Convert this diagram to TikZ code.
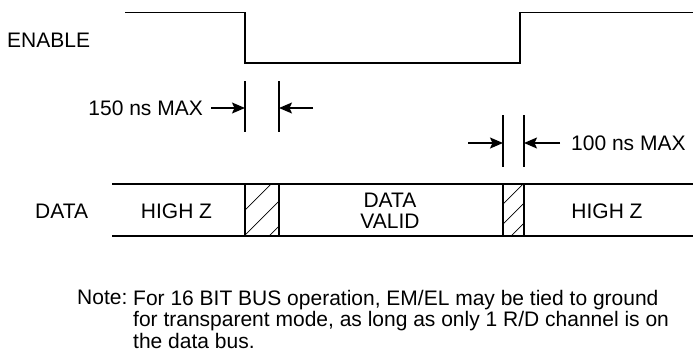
\documentclass[tikz,border=0pt]{standalone}
\usepackage{fontspec}
\setmainfont{Liberation Sans}
\usetikzlibrary{arrows.meta}

\begin{document}
\begin{tikzpicture}[
  x=1pt,y=-1pt,>={Stealth[length=13pt,width=11pt,inset=2.5pt]},
  wave/.style={line width=1.8pt},
  tick/.style={line width=1.8pt},
  dim/.style={->,line width=1.5pt},
  hatch/.style={line width=0.7pt},
  txt/.style={font=\fontsize{21}{21.5}\selectfont,inner sep=0pt}
]
\useasboundingbox (0,0) rectangle (693,354);
% enable line
\node[txt,anchor=west] (enable) at (7,40) {ENABLE};
\draw[wave] (125,12.5) -- (245,12.5) -- (245,63) -- (520,63) -- (520,12.5) -- (693,12.5);
% 150 ns window
\draw[tick] (245,81) -- (245,132) (279,81) -- (279,132);
\node[txt,anchor=east] (t150) at (203,108) {150 ns MAX};
\coordinate (a150l) at (245,108);
\coordinate (a150r) at (279,108);
\coordinate (f150) at (313,108);
\draw[dim,shorten <=8pt] (t150) -- (a150l);
\draw[dim] (f150) -- (a150r);
% 100 ns window
\draw[tick] (503,115) -- (503,167) (524,115) -- (524,167);
\node[txt,anchor=west] (t100) at (571,143) {100 ns MAX};
\coordinate (a100l) at (503,143);
\coordinate (a100r) at (524,143);
\coordinate (f100) at (468,143);
\draw[dim] (f100) -- (a100l);
\draw[dim,shorten <=11pt] (t100) -- (a100r);
% data bus
\node[txt,anchor=west] (data) at (35,211) {DATA};
\draw[wave] (112,184) -- (693,184) (112,236) -- (693,236);
\foreach \xa/\xb/\ya/\dy in {245/279/185/25,503/524/184/20} {
  \draw[wave] (\xa,184) -- (\xa,236) (\xb,184) -- (\xb,236);
  \begin{scope}
    \clip (\xa,184) rectangle (\xb,236);
    \foreach \k in {0,1,2,3,4} {\draw[hatch] (\xa,\ya+\dy*\k) -- ++(60,-60);}
  \end{scope}
}
\node[txt] (hz1) at (176.5,211) {HIGH Z};
\node[txt,align=center] (valid) at (390,211) {DATA\\VALID};
\node[txt] (hz2) at (607,211) {HIGH Z};
% note
\node[txt,anchor=north west] (note) at (77,290) {Note:};
\node[txt,anchor=north west,align=left] (notetext) at (133,290)
  {For 16 BIT BUS operation, EM/EL may be tied to ground\\
   for transparent mode, as long as only 1 R/D channel is on\\
   the data bus.};
\end{tikzpicture}
\end{document}
